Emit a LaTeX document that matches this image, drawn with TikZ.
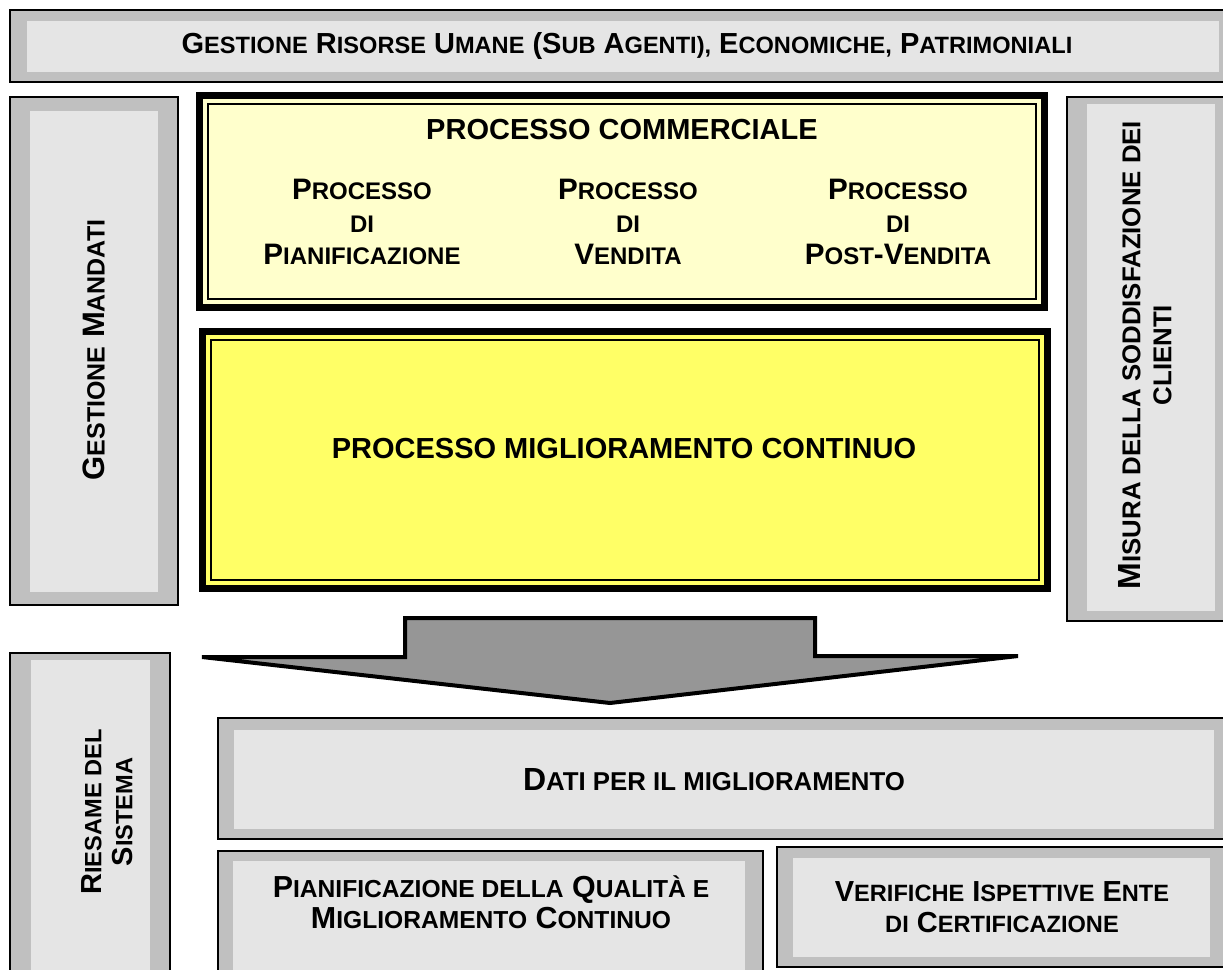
\documentclass[tikz,border=0pt]{standalone}
\usepackage{fontspec}
\setmainfont{Liberation Sans}
\definecolor{grigio}{RGB}{192,192,192}
\definecolor{chiaro}{RGB}{229,229,229}
\definecolor{paglia}{RGB}{255,255,204}
\definecolor{giallo}{RGB}{255,255,102}
\definecolor{ferro}{RGB}{150,150,150}
\def\smpt{11.8}
\newcommand\sm[1]{{\fontsize{\smpt}{15.5}\selectfont #1}}
\begin{document}
\begin{tikzpicture}[
        x=0.5pt, y=-0.5pt, % coordinate in pixel
        frame/.style={fill=grigio, draw=black, line width=0.8pt}, % cornice grigia
        pane/.style={fill=chiaro}, % riquadro interno
        thick rim/.style={draw=black, line width=3.5pt},
        thin rim/.style={draw=black, line width=0.8pt},
        txt/.style={align=center, inner sep=0pt, font=\fontsize{14.5}{15.5}\selectfont\bfseries},
        col/.style={txt, font=\fontsize{14.8}{16.3}\selectfont\bfseries\def\smpt{12}},
        sz/.style 2 args={font=\fontsize{#1}{15.5}\selectfont\bfseries\def\smpt{#2}},
    ]
    \clip (0,0) rectangle (1223,970);

    % riquadri grigi
    \draw[frame] (10,10) rectangle (1235,82);
    \fill[pane] (27,21) rectangle (1219,72);
    \draw[frame] (10,97) rectangle (178,605);
    \fill[pane] (30,111) rectangle (158,592);
    \draw[frame] (1067,97) rectangle (1235,621);
    \fill[pane] (1087,104) rectangle (1215,611);
    \draw[frame] (10,653) rectangle (170,985);
    \fill[pane] (31,660) rectangle (150,985);
    \draw[frame] (218,718) rectangle (1235,839);
    \fill[pane] (234,730) rectangle (1214,829);
    \draw[frame] (218,851) rectangle (763,985);
    \fill[pane] (233,861) rectangle (745,985);
    \draw[frame] (777,847) rectangle (1235,967);
    \fill[pane] (793,858) rectangle (1210,957);

    % riquadri gialli con doppio bordo
    \fill[paglia] (196,92) rectangle (1048,311);
    \draw[thick rim] (199.5,95.5) rectangle (1044.5,307.5);
    \draw[thin rim] (208,104) rectangle (1036,299);
    \fill[giallo] (199,328) rectangle (1051,592);
    \draw[thick rim] (202.5,331.5) rectangle (1047.5,588.5);
    \draw[thin rim] (211,340) rectangle (1039,580);

    % freccia
    \draw[fill=ferro, line width=2pt] (202,657) -- (405,657) -- (405,618) -- (815,618)
        -- (815,656) -- (1018,656) -- (610,703) -- cycle;

    % testi
    \node[txt] (risorse) at (627,46) {G\sm{ESTIONE} R\sm{ISORSE} U\sm{MANE} (S\sm{UB} A\sm{GENTI}\sm{),} E\sm{CONOMICHE}\sm{,} P\sm{ATRIMONIALI}};
    \node[txt, sz={15.5}{12.5}, rotate=90] (mandati) at (94,350) {G\sm{ESTIONE} M\sm{ANDATI}};
    \node[txt] (commerciale) at (622,130) {PROCESSO COMMERCIALE};
    \node[col] (pianif) at (362,222) {P\sm{ROCESSO}\\\sm{DI}\\P\sm{IANIFICAZIONE}};
    \node[col] (vendita) at (628,222) {P\sm{ROCESSO}\\\sm{DI}\\V\sm{ENDITA}};
    \node[col] (postvend) at (898,222) {P\sm{ROCESSO}\\\sm{DI}\\P\sm{OST}-V\sm{ENDITA}};
    \node[txt] (miglior) at (624,449) {PROCESSO MIGLIORAMENTO CONTINUO};
    \node[txt, sz={16}{12.9}, rotate=90] (misura) at (1145,355) {M\sm{ISURA DELLA SODDISFAZIONE DEI}\\\sm{CLIENTI}};
    \node[txt, rotate=90] (riesame) at (107,812) {R\sm{IESAME DEL}\\S\sm{ISTEMA}};
    \node[txt, sz={16}{12.9}] (dati) at (714,780) {D\sm{ATI PER IL MIGLIORAMENTO}};
    \node[txt, sz={15.2}{12.3}] (qualita) at (491,902) {P\sm{IANIFICAZIONE DELLA} Q\sm{UALITÀ E}\\M\sm{IGLIORAMENTO} C\sm{ONTINUO}};
    \node[txt] (verifiche) at (1002,907) {V\sm{ERIFICHE} I\sm{SPETTIVE} E\sm{NTE}\\\sm{DI} C\sm{ERTIFICAZIONE}};
\end{tikzpicture}
\end{document}
